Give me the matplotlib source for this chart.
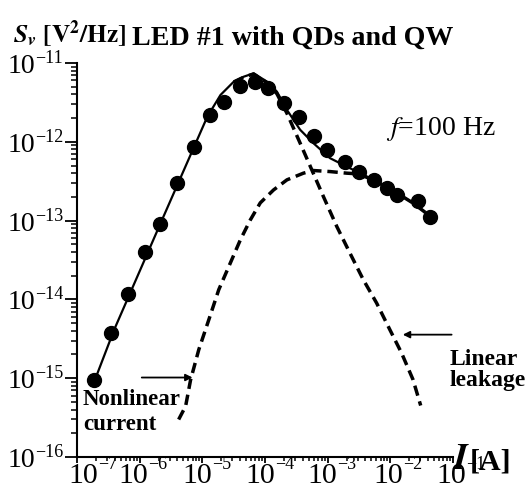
import matplotlib
matplotlib.use("Agg")
import matplotlib.pyplot as plt
from matplotlib.ticker import NullFormatter
import numpy as np

plt.rcParams['font.family'] = ['Liberation Serif', 'DejaVu Serif']
plt.rcParams['mathtext.fontset'] = 'stix'

# ---- data ----
dots_I = [1.84e-7, 3.47e-7, 6.4e-7, 1.22e-6, 2.09e-6, 3.89e-6, 7.3e-6, 1.32e-5,
          2.19e-5, 3.98e-5, 6.8e-5, 1.10e-4, 2.04e-4, 3.55e-4, 6.1e-4, 9.9e-4,
          1.86e-3, 3.16e-3, 5.5e-3, 8.9e-3, 1.29e-2, 2.75e-2, 4.27e-2]
dots_S = [9.6e-16, 3.7e-15, 1.17e-14, 4.0e-14, 9.1e-14, 3.0e-13, 8.5e-13, 2.19e-12,
          3.24e-12, 5.1e-12, 5.75e-12, 4.8e-12, 3.1e-12, 2.09e-12, 1.20e-12, 7.8e-13,
          5.6e-13, 4.1e-13, 3.24e-13, 2.63e-13, 2.09e-13, 1.78e-13, 1.10e-13]

fit_I = [1.86e-7, 3.92e-7, 2.16e-6, 1.20e-5, 1.95e-5, 3.17e-5, 4.57e-5, 6.59e-5,
         1.08e-4, 1.55e-4, 2.24e-4, 3.64e-4, 5.93e-4, 1.09e-3, 2.01e-3, 3.27e-3,
         5.33e-3, 8.71e-3, 1.42e-2, 2.30e-2, 3.76e-2, 4.25e-2]
fit_S = [8.8e-16, 4.13e-15, 9.3e-14, 2.08e-12, 3.93e-12, 5.79e-12, 6.70e-12, 7.40e-12,
         5.79e-12, 4.33e-12, 2.54e-12, 1.42e-12, 9.6e-13, 6.2e-13, 4.85e-13, 4.0e-13,
         3.29e-13, 2.66e-13, 2.12e-13, 1.67e-13, 1.24e-13, 1.13e-13]

nonlin_I = [4.19e-6, 5.41e-6, 6.49e-6, 8.79e-6, 1.27e-5, 1.83e-5, 2.81e-5, 4.05e-5,
            5.83e-5, 8.41e-5, 1.37e-4, 2.24e-4, 4.11e-4, 5.93e-4, 1.09e-3, 2.01e-3,
            3.04e-3, 5.33e-3, 8.71e-3, 1.42e-2, 2.30e-2, 3.76e-2, 4.25e-2]
nonlin_S = [2.99e-16, 4.41e-16, 9.5e-16, 2.31e-15, 5.53e-15, 1.33e-14, 2.92e-14, 5.71e-14,
            1.02e-13, 1.68e-13, 2.45e-13, 3.29e-13, 4.0e-13, 4.32e-13, 4.19e-13, 4.0e-13,
            3.92e-13, 3.29e-13, 2.66e-13, 2.12e-13, 1.67e-13, 1.24e-13, 1.13e-13]

leak_I = [3.17e-5, 4.57e-5, 6.59e-5, 1.08e-4, 1.55e-4, 2.24e-4, 3.64e-4, 5.58e-4,
          8.55e-4, 1.40e-3, 2.27e-3, 3.70e-3, 6.04e-3, 9.82e-3, 1.51e-2, 2.30e-2, 3.05e-2]
leak_S = [5.75e-12, 6.6e-12, 7.25e-12, 5.6e-12, 4.07e-12, 2.30e-12, 9.6e-13, 4.41e-13,
          2.02e-13, 8.4e-14, 3.86e-14, 1.78e-14, 8.99e-15, 4.13e-15, 2.09e-15, 9.6e-16, 4.5e-16]

x_decades = [-7, -6, -5, -4, -3, -2, -1]
y_decades = [-16, -15, -14, -13, -12, -11]

W, H = 532, 494
fig = plt.figure(figsize=(W / 100, H / 100), dpi=100)
ax = fig.add_axes([77 / W, 1 - 457 / H, (453 - 77) / W, (457 - 63) / H])

ax.plot(leak_I, leak_S, color='k', lw=2.5, dashes=(3.0, 1.7))
ax.plot(nonlin_I, nonlin_S, color='k', lw=2.5, dashes=(3.0, 1.7))
ax.plot(fit_I, fit_S, color='k', lw=1.6)
ax.plot(dots_I, dots_S, 'o', color='k', ms=10, zorder=5)

ax.set_xscale('log')
ax.set_yscale('log')
ax.set_xlim(1e-7, 1e-1)
ax.set_ylim(1e-16, 1e-11)
ax.set_xticks([10.0 ** d for d in x_decades])
ax.set_yticks([10.0 ** d for d in y_decades])
for axis in (ax.xaxis, ax.yaxis):
    axis.set_major_formatter(NullFormatter())
    axis.set_minor_formatter(NullFormatter())

for s in ['top', 'right']:
    ax.spines[s].set_visible(False)
for s in ['left', 'bottom']:
    ax.spines[s].set_linewidth(1.5)

ax.tick_params(axis='y', which='major', direction='out', length=8.5, width=1.3)
ax.tick_params(axis='y', which='minor', direction='out', length=4.2, width=1.1)
ax.tick_params(axis='x', which='major', direction='out', length=4.5, width=1.3)
ax.tick_params(axis='x', which='minor', direction='out', length=3.0, width=1.1)

MINUS = '\u2212'
x_label_shift = [21, 8, 10, 10, 9, 13, 13]   # pixel offset of each "10" right edge from its tick
for d, sh in zip(x_decades, x_label_shift):
    ax.annotate("10", xy=(10.0 ** d, 0), xycoords=('data', 'axes fraction'),
                xytext=(sh, -26), textcoords='offset pixels', ha='right', va='baseline',
                fontsize=21.5, annotation_clip=False)
    ax.annotate(MINUS + str(-d), xy=(10.0 ** d, 0), xycoords=('data', 'axes fraction'),
                xytext=(sh, -12), textcoords='offset pixels', ha='left', va='baseline',
                fontsize=13, annotation_clip=False)
for d in y_decades:
    ax.annotate("10", xy=(0, 10.0 ** d), xycoords=('axes fraction', 'data'),
                xytext=(-42, -10), textcoords='offset pixels', ha='right', va='baseline',
                fontsize=20, annotation_clip=False)
    ax.annotate(MINUS + str(-d), xy=(0, 10.0 ** d), xycoords=('axes fraction', 'data'),
                xytext=(-42, 0), textcoords='offset pixels', ha='left', va='baseline',
                fontsize=13, annotation_clip=False)

def px(x, y):
    return x / W, 1 - y / H

fig.text(*px(13, 43), r"$\mathbfit{S}_{\mathbfit{v}}\ \mathbf{[V^{2}/Hz]}$", fontsize=18.3,
         va='baseline', ha='left')
fig.text(*px(132, 45), "LED #1 with QDs and QW", fontsize=20.2, fontweight='bold',
         va='baseline', ha='left')
fig.text(*px(386, 135), r"$f$=100 Hz", fontsize=20, va='baseline', ha='left')

fig.text(*px(452, 469), r"$\mathbfit{I}$", fontsize=26, va='baseline', ha='left')
fig.text(*px(470, 469), "[A]", fontsize=21.5, fontweight='bold', va='baseline', ha='left')

fig.text(*px(83, 405), "Nonlinear", fontsize=16.5, fontweight='bold', va='baseline', ha='left')
fig.text(*px(83, 430), "current", fontsize=16.5, fontweight='bold', va='baseline', ha='left')
fig.text(*px(450, 365), "Linear", fontsize=17, fontweight='bold', va='baseline', ha='left')
fig.text(*px(450, 386), "leakage", fontsize=17, fontweight='bold', va='baseline', ha='left')

arrow = dict(arrowstyle='-|>', lw=1.3, color='k', mutation_scale=10, shrinkA=0, shrinkB=0)
ax.annotate("", xy=(6.98e-6, 1.02e-15), xytext=(1.08e-6, 1.02e-15), arrowprops=arrow)
ax.annotate("", xy=(1.58e-2, 3.57e-15), xytext=(9.5e-2, 3.57e-15), arrowprops=arrow,
            annotation_clip=False)

fig.savefig("out.png", dpi=100)
